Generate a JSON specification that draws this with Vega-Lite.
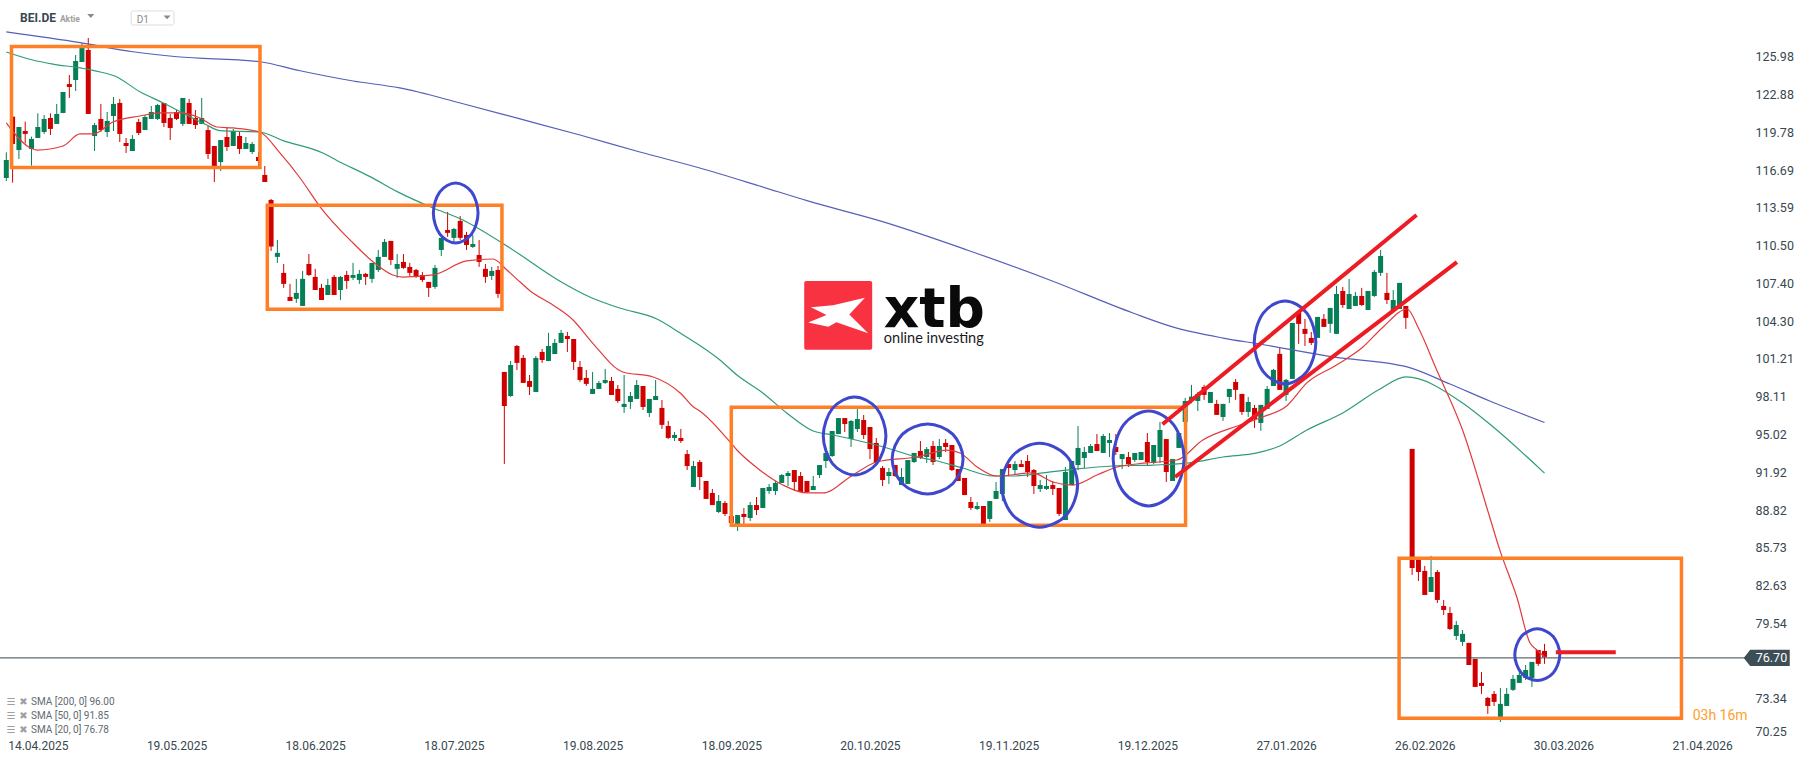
{
"$schema":"https://vega.github.io/schema/vega-lite/v6.json",
"width":1745,"height":740,"padding":{"left":0,"top":0,"right":71,"bottom":21},"autosize":{"type":"none"},"background":"white",
"config":{"view":{"stroke":null},"text":{"font":"Roboto"}},
"datasets":{
"candles":[
{"bar":0,"open":116.04,"high":118.14,"low":115.79,"close":117.52},{"bar":1,"open":121.07,"high":121.07,"low":115.66,"close":118.83},{"bar":2,"open":118.33,"high":120.22,"low":117.6,"close":120.22},{"bar":3,"open":119.89,"high":120.66,"low":118.88,"close":119.65},{"bar":4,"open":118.42,"high":119.43,"low":117.05,"close":119.24},{"bar":5,"open":119.32,"high":121.34,"low":119.32,"close":120.22},{"bar":6,"open":119.81,"high":121.2,"low":119.65,"close":120.88},{"bar":7,"open":120.96,"high":121.34,"low":119.56,"close":120.06},{"bar":8,"open":120.47,"high":122.11,"low":120.47,"close":121.29},{"bar":9,"open":121.37,"high":123.09,"low":121.37,"close":123.09},
{"bar":10,"open":123.74,"high":124.48,"low":122.6,"close":123.5},{"bar":11,"open":124.07,"high":126.12,"low":123.17,"close":125.63},{"bar":12,"open":125.55,"high":127.08,"low":125.55,"close":126.7},{"bar":13,"open":126.53,"high":127.52,"low":121.29,"close":121.29},{"bar":14,"open":119.48,"high":120.55,"low":118.25,"close":120.38},{"bar":15,"open":120.88,"high":122.11,"low":119.81,"close":119.97},{"bar":16,"open":119.81,"high":121.45,"low":119.4,"close":120.71},{"bar":17,"open":121.12,"high":122.68,"low":119.89,"close":122.11},{"bar":18,"open":122.19,"high":122.52,"low":118.99,"close":119.65},{"bar":19,"open":118.91,"high":119.32,"low":118.09,"close":118.66},
{"bar":20,"open":118.25,"high":119.56,"low":118.25,"close":119.24},{"bar":21,"open":120.63,"high":120.88,"low":119.56,"close":119.73},{"bar":22,"open":119.97,"high":121.2,"low":119.97,"close":121.04},{"bar":23,"open":120.88,"high":121.94,"low":120.88,"close":121.45},{"bar":24,"open":120.88,"high":122.11,"low":120.79,"close":122.02},{"bar":25,"open":122.19,"high":122.19,"low":120.22,"close":120.55},{"bar":26,"open":120.96,"high":121.29,"low":119.15,"close":120.14},{"bar":27,"open":121.45,"high":121.61,"low":120.79,"close":120.88},{"bar":28,"open":120.47,"high":122.6,"low":120.3,"close":122.6},{"bar":29,"open":122.19,"high":122.52,"low":120.47,"close":120.47},
{"bar":30,"open":120.96,"high":121.61,"low":120.06,"close":120.38},{"bar":31,"open":120.47,"high":122.6,"low":120.47,"close":120.96},{"bar":32,"open":119.97,"high":120.3,"low":117.6,"close":118.01},{"bar":33,"open":118.66,"high":118.66,"low":115.71,"close":117.02},{"bar":34,"open":117.35,"high":119.15,"low":116.61,"close":119.15},{"bar":35,"open":119.4,"high":120.14,"low":118.25,"close":118.58},{"bar":36,"open":118.66,"high":120.06,"low":118.66,"close":119.89},{"bar":37,"open":119.48,"high":119.81,"low":118.01,"close":118.42},{"bar":38,"open":118.42,"high":119.4,"low":118.42,"close":118.91},{"bar":39,"open":118.17,"high":118.99,"low":118.01,"close":118.83},
{"bar":40,"open":117.76,"high":118.17,"low":117.02,"close":117.43},{"bar":41,"open":116.29,"high":117.02,"low":115.71,"close":115.71},{"bar":42,"open":114.24,"high":114.32,"low":110.06,"close":110.42},{"bar":43,"open":109.57,"high":110.96,"low":109.08,"close":109.9},{"bar":44,"open":108.26,"high":108.99,"low":107.03,"close":107.36},{"bar":45,"open":106.29,"high":107.36,"low":105.96,"close":105.96},{"bar":46,"open":106.13,"high":107.77,"low":105.8,"close":106.62},{"bar":47,"open":105.55,"high":108.42,"low":105.55,"close":107.77},{"bar":48,"open":108.99,"high":109.81,"low":108.01,"close":108.09},{"bar":49,"open":107.93,"high":108.59,"low":106.86,"close":106.86},
{"bar":50,"open":107.03,"high":107.36,"low":106.04,"close":106.04},{"bar":51,"open":106.45,"high":107.77,"low":106.45,"close":107.27},{"bar":52,"open":107.93,"high":108.09,"low":106.45,"close":106.45},{"bar":53,"open":106.86,"high":108.01,"low":106.04,"close":107.93},{"bar":54,"open":108.09,"high":108.42,"low":106.95,"close":107.6},{"bar":55,"open":107.85,"high":109.08,"low":107.68,"close":108.09},{"bar":56,"open":107.68,"high":108.5,"low":107.36,"close":108.18},{"bar":57,"open":108.18,"high":108.26,"low":107.27,"close":107.93},{"bar":58,"open":107.77,"high":109.08,"low":107.44,"close":109.08},{"bar":59,"open":108.5,"high":110.14,"low":108.34,"close":109.57},
{"bar":60,"open":109.57,"high":111.04,"low":109.57,"close":110.8},{"bar":61,"open":110.88,"high":110.88,"low":108.91,"close":109.32},{"bar":62,"open":108.59,"high":109.81,"low":107.85,"close":108.99},{"bar":63,"open":109.16,"high":109.81,"low":108.59,"close":108.67},{"bar":64,"open":108.75,"high":109.08,"low":108.01,"close":108.26},{"bar":65,"open":108.5,"high":108.59,"low":107.85,"close":107.93},{"bar":66,"open":108.09,"high":108.34,"low":107.52,"close":107.68},{"bar":67,"open":107.52,"high":107.52,"low":106.29,"close":107.03},{"bar":68,"open":107.11,"high":108.91,"low":106.95,"close":108.67},{"bar":69,"open":110.14,"high":111.13,"low":109.65,"close":111.13},
{"bar":70,"open":111.78,"high":113.26,"low":111.21,"close":111.54},{"bar":71,"open":111.13,"high":111.95,"low":110.8,"close":111.86},{"bar":72,"open":112.52,"high":112.93,"low":110.96,"close":111.13},{"bar":73,"open":111.37,"high":111.62,"low":110.14,"close":110.55},{"bar":74,"open":110.39,"high":111.37,"low":110.31,"close":110.63},{"bar":75,"open":109.73,"high":110.96,"low":108.75,"close":109.16},{"bar":76,"open":108.59,"high":108.99,"low":107.44,"close":107.93},{"bar":77,"open":108.01,"high":108.75,"low":107.68,"close":108.42},{"bar":78,"open":108.5,"high":108.83,"low":106.21,"close":106.54},{"bar":79,"open":100.14,"high":100.14,"low":92.6,"close":97.35},
{"bar":80,"open":98.17,"high":101.04,"low":98.09,"close":100.71},{"bar":81,"open":102.27,"high":102.35,"low":100.3,"close":100.88},{"bar":82,"open":101.29,"high":101.53,"low":99.24,"close":99.24},{"bar":83,"open":99.4,"high":99.89,"low":98.25,"close":98.91},{"bar":84,"open":98.5,"high":101.45,"low":98.5,"close":101.29},{"bar":85,"open":101.78,"high":102.02,"low":100.88,"close":101.12},{"bar":86,"open":101.04,"high":103.34,"low":101.04,"close":102.27},{"bar":87,"open":101.61,"high":102.84,"low":101.61,"close":102.52},{"bar":88,"open":102.52,"high":103.58,"low":102.52,"close":103.34},{"bar":89,"open":103.09,"high":103.42,"low":101.78,"close":102.84},
{"bar":90,"open":102.84,"high":102.84,"low":100.3,"close":100.96},{"bar":91,"open":100.55,"high":101.04,"low":99.32,"close":99.48},{"bar":92,"open":99.65,"high":100.3,"low":98.99,"close":99.16},{"bar":93,"open":98.34,"high":100.14,"low":98.34,"close":98.75},{"bar":94,"open":98.75,"high":99.4,"low":98.75,"close":99.24},{"bar":95,"open":99.24,"high":100.39,"low":99.16,"close":99.48},{"bar":96,"open":99.4,"high":99.73,"low":98.25,"close":98.25},{"bar":97,"open":98.75,"high":99.07,"low":97.6,"close":97.76},{"bar":98,"open":97.27,"high":99.89,"low":96.78,"close":97.52},{"bar":99,"open":97.68,"high":98.5,"low":97.11,"close":98.17},
{"bar":100,"open":97.93,"high":99.48,"low":97.93,"close":99.07},{"bar":101,"open":98.99,"high":98.99,"low":97.02,"close":97.27},{"bar":102,"open":96.78,"high":97.93,"low":96.45,"close":97.93},{"bar":103,"open":97.84,"high":99.48,"low":97.84,"close":98.17},{"bar":104,"open":97.19,"high":97.84,"low":95.47,"close":95.8},{"bar":105,"open":95.71,"high":96.12,"low":94.65,"close":94.73},{"bar":106,"open":94.73,"high":95.22,"low":94.48,"close":94.98},{"bar":107,"open":94.73,"high":95.47,"low":94.32,"close":94.48},{"bar":108,"open":93.41,"high":93.74,"low":92.1,"close":92.43},{"bar":109,"open":90.71,"high":92.84,"low":90.71,"close":92.43},
{"bar":110,"open":92.76,"high":92.92,"low":90.46,"close":91.53},{"bar":111,"open":91.2,"high":91.2,"low":89.73,"close":89.73},{"bar":112,"open":90.22,"high":90.55,"low":89.23,"close":89.23},{"bar":113,"open":88.66,"high":90.05,"low":88.58,"close":89.56},{"bar":114,"open":89.4,"high":89.56,"low":88.33,"close":88.5},{"bar":115,"open":88.33,"high":88.33,"low":87.68,"close":87.76},{"bar":116,"open":87.51,"high":88.41,"low":87.1,"close":88.41},{"bar":117,"open":88.5,"high":88.99,"low":87.68,"close":88.25},{"bar":118,"open":88.17,"high":89.48,"low":87.92,"close":89.23},{"bar":119,"open":89.23,"high":89.89,"low":88.41,"close":88.82},
{"bar":120,"open":88.99,"high":90.63,"low":88.99,"close":90.63},{"bar":121,"open":90.38,"high":90.96,"low":90.14,"close":90.71},{"bar":122,"open":90.38,"high":91.2,"low":90.05,"close":91.04},{"bar":123,"open":91.04,"high":91.77,"low":91.04,"close":91.69},{"bar":124,"open":91.61,"high":92.02,"low":90.79,"close":91.86},{"bar":125,"open":92.1,"high":92.1,"low":90.38,"close":91.12},{"bar":126,"open":91.61,"high":91.94,"low":90.3,"close":90.3},{"bar":127,"open":91.2,"high":91.2,"low":90.22,"close":90.3},{"bar":128,"open":90.46,"high":91.61,"low":90.46,"close":90.79},{"bar":129,"open":91.69,"high":92.51,"low":91.45,"close":92.51},
{"bar":130,"open":92.84,"high":93.5,"low":92.27,"close":93.5},{"bar":131,"open":93.25,"high":95.3,"low":93.17,"close":95.3},{"bar":132,"open":95.05,"high":96.36,"low":95.05,"close":96.36},{"bar":133,"open":96.36,"high":96.36,"low":95.22,"close":95.87},{"bar":134,"open":94.64,"high":96.2,"low":93.99,"close":96.12},{"bar":135,"open":95.46,"high":97.1,"low":95.22,"close":96.28},{"bar":136,"open":96.2,"high":96.61,"low":94.64,"close":94.97},{"bar":137,"open":95.63,"high":95.63,"low":93,"close":93.82},{"bar":138,"open":94.32,"high":94.73,"low":92.68,"close":92.68},{"bar":139,"open":92.27,"high":92.43,"low":90.79,"close":91.28},
{"bar":140,"open":91.61,"high":92.27,"low":90.96,"close":91.94},{"bar":141,"open":92.51,"high":92.51,"low":91.53,"close":91.61},{"bar":142,"open":90.87,"high":92.27,"low":90.87,"close":91.53},{"bar":143,"open":90.96,"high":92.92,"low":90.96,"close":92.92},{"bar":144,"open":92.76,"high":93.5,"low":92.68,"close":93.5},{"bar":145,"open":93.66,"high":94.48,"low":93,"close":93.09},{"bar":146,"open":93.17,"high":93.99,"low":92.68,"close":93.82},{"bar":147,"open":94.07,"high":94.48,"low":92.51,"close":92.76},{"bar":148,"open":93.17,"high":94.64,"low":93,"close":94.07},{"bar":149,"open":94.32,"high":94.64,"low":93.58,"close":93.99},
{"bar":150,"open":94.15,"high":94.15,"low":92.02,"close":92.1},{"bar":151,"open":92.18,"high":92.18,"low":91.2,"close":91.2},{"bar":152,"open":91.45,"high":91.45,"low":90.05,"close":90.05},{"bar":153,"open":89.48,"high":89.89,"low":88.82,"close":88.99},{"bar":154,"open":88.91,"high":89.48,"low":88.82,"close":89.15},{"bar":155,"open":89.15,"high":89.15,"low":87.51,"close":87.59},{"bar":156,"open":88.09,"high":89.56,"low":87.84,"close":89.56},{"bar":157,"open":89.73,"high":91.12,"low":89.73,"close":90.38},{"bar":158,"open":90.14,"high":92.18,"low":89.56,"close":92.18},{"bar":159,"open":92.59,"high":92.59,"low":91.61,"close":92.27},
{"bar":160,"open":92.1,"high":92.84,"low":91.77,"close":92.59},{"bar":161,"open":92.59,"high":92.92,"low":92.35,"close":92.35},{"bar":162,"open":92.84,"high":93.33,"low":91.53,"close":91.94},{"bar":163,"open":92.1,"high":92.18,"low":90.14,"close":90.79},{"bar":164,"open":90.55,"high":91.28,"low":90.3,"close":90.87},{"bar":165,"open":90.55,"high":91.69,"low":90.46,"close":90.79},{"bar":166,"open":90.87,"high":91.2,"low":90.05,"close":90.55},{"bar":167,"open":90.63,"high":90.63,"low":88.33,"close":88.5},{"bar":168,"open":88,"high":92.35,"low":88,"close":91.94},{"bar":169,"open":90.87,"high":92.84,"low":90.87,"close":92.84},
{"bar":170,"open":92.51,"high":95.71,"low":92.1,"close":93.91},{"bar":171,"open":93.09,"high":93.99,"low":92.27,"close":93.58},{"bar":172,"open":93.5,"high":94.23,"low":93.5,"close":94.07},{"bar":173,"open":94.23,"high":95.05,"low":93.66,"close":93.66},{"bar":174,"open":93.5,"high":95.05,"low":93.5,"close":94.89},{"bar":175,"open":94.32,"high":95.13,"low":93.17,"close":94.56},{"bar":176,"open":93.99,"high":95.05,"low":93.33,"close":93.58},{"bar":177,"open":93,"high":93.41,"low":92.18,"close":93.41},{"bar":178,"open":93.17,"high":93.58,"low":92.35,"close":92.59},{"bar":179,"open":92.92,"high":93.5,"low":92.76,"close":93.5},
{"bar":180,"open":92.92,"high":93.58,"low":92.92,"close":93.58},{"bar":181,"open":94.4,"high":95.13,"low":92.43,"close":92.76},{"bar":182,"open":92.68,"high":94.15,"low":92.59,"close":94.15},{"bar":183,"open":93.17,"high":96.04,"low":92.68,"close":95.38},{"bar":184,"open":94.64,"high":94.64,"low":91.12,"close":91.94},{"bar":185,"open":91.2,"high":93,"low":91.2,"close":93},{"bar":186,"open":93.91,"high":95.13,"low":93.91,"close":95.13},{"bar":187,"open":96.04,"high":98.01,"low":96.04,"close":97.76},{"bar":188,"open":97.76,"high":99.08,"low":97.57,"close":98.12},{"bar":189,"open":97.76,"high":98.5,"low":96.94,"close":98.34},
{"bar":190,"open":98.91,"high":99.08,"low":97.85,"close":98.26},{"bar":191,"open":97.6,"high":98.5,"low":97.6,"close":98.5},{"bar":192,"open":97.52,"high":97.85,"low":96.62,"close":96.62},{"bar":193,"open":96.45,"high":97.52,"low":96.13,"close":97.52},{"bar":194,"open":98.09,"high":98.75,"low":97.6,"close":98.75},{"bar":195,"open":99.32,"high":99.57,"low":97.85,"close":98.67},{"bar":196,"open":98.34,"high":98.34,"low":96.62,"close":96.86},{"bar":197,"open":96.86,"high":98.09,"low":96.45,"close":97.68},{"bar":198,"open":97.19,"high":97.44,"low":95.55,"close":96.29},{"bar":199,"open":95.96,"high":97.44,"low":95.31,"close":97.44},
{"bar":200,"open":97.11,"high":98.99,"low":97.11,"close":98.75},{"bar":201,"open":98.99,"high":100.39,"low":98.99,"close":100.31},{"bar":202,"open":101.62,"high":102.11,"low":98.67,"close":98.67},{"bar":203,"open":98.26,"high":99.57,"low":97.76,"close":99.49},{"bar":204,"open":99.57,"high":104.16,"low":99.57,"close":104.16},{"bar":205,"open":104.98,"high":104.98,"low":102.44,"close":104.08},{"bar":206,"open":103.67,"high":104.49,"low":102.27,"close":103.26},{"bar":207,"open":102.93,"high":103.42,"low":102.35,"close":102.52},{"bar":208,"open":102.93,"high":104.65,"low":102.93,"close":104.65},{"bar":209,"open":104.49,"high":104.89,"low":103.83,"close":103.83},
{"bar":210,"open":104.08,"high":105.39,"low":103.34,"close":105.39},{"bar":211,"open":103.26,"high":107.19,"low":103.26,"close":106.53},{"bar":212,"open":106.78,"high":107.11,"low":105.39,"close":105.63},{"bar":213,"open":105.3,"high":107.76,"low":105.3,"close":106.53},{"bar":214,"open":105.55,"high":106.7,"low":105.55,"close":106.37},{"bar":215,"open":106.37,"high":107.03,"low":105.55,"close":105.63},{"bar":216,"open":105.22,"high":106.78,"low":105.22,"close":106.78},{"bar":217,"open":106.37,"high":108.5,"low":106.29,"close":108.34},{"bar":218,"open":108.26,"high":110.14,"low":108.01,"close":109.65},{"bar":219,"open":106.62,"high":108.26,"low":105.71,"close":106.04},
{"bar":220,"open":105.22,"high":106.86,"low":105.22,"close":106.04},{"bar":221,"open":105.3,"high":107.44,"low":105.3,"close":107.44},{"bar":222,"open":105.55,"high":105.55,"low":103.67,"close":104.57},{"bar":223,"open":93.83,"high":93.83,"low":83.5,"close":84.07},{"bar":224,"open":84.73,"high":84.73,"low":83.01,"close":83.74},{"bar":225,"open":83.83,"high":84.24,"low":81.86,"close":81.86},{"bar":226,"open":82.1,"high":85.06,"low":82.1,"close":83.33},{"bar":227,"open":83.74,"high":83.91,"low":81.2,"close":81.45},{"bar":228,"open":80.96,"high":81.45,"low":80.22,"close":80.63},{"bar":229,"open":80.38,"high":80.88,"low":78.99,"close":79.07},
{"bar":230,"open":78.5,"high":79.73,"low":78.17,"close":79.4},{"bar":231,"open":78.01,"high":78.99,"low":77.68,"close":78.67},{"bar":232,"open":77.93,"high":77.93,"low":76.12,"close":76.12},{"bar":233,"open":76.62,"high":76.62,"low":74.32,"close":74.32},{"bar":234,"open":74.65,"high":75.55,"low":73.75,"close":74.4},{"bar":235,"open":73.42,"high":73.5,"low":72.11,"close":72.76},{"bar":236,"open":73.75,"high":73.99,"low":72.76,"close":73.09},{"bar":237,"open":71.86,"high":74.24,"low":71.45,"close":72.93},{"bar":238,"open":72.76,"high":74.24,"low":72.76,"close":73.75},{"bar":239,"open":74.08,"high":75.3,"low":73.99,"close":74.98},
{"bar":240,"open":74.65,"high":75.71,"low":74.65,"close":75.3},{"bar":241,"open":75.06,"high":76.12,"low":74.89,"close":75.71},{"bar":242,"open":75.06,"high":76.37,"low":74.32,"close":76.37},{"bar":243,"open":77.35,"high":77.35,"low":76.04,"close":76.21},{"bar":244,"open":77.27,"high":77.85,"low":76.21,"close":76.78}
],
"sma":[
{"name":"SMA200","bar":0,"price":128.01},{"name":"SMA200","bar":11.7,"price":127.13},{"name":"SMA200","bar":20.1,"price":126.39},{"name":"SMA200","bar":27.1,"price":125.98},{"name":"SMA200","bar":40.2,"price":125.57},{"name":"SMA200","bar":46.6,"price":124.83},{"name":"SMA200","bar":55,"price":123.99},{"name":"SMA200","bar":62.4,"price":123.42},{"name":"SMA200","bar":72,"price":122.19},{"name":"SMA200","bar":81.5,"price":120.88},{"name":"SMA200","bar":91,"price":119.56},{"name":"SMA200","bar":100.5,"price":118.17},{"name":"SMA200","bar":110,"price":116.86},{"name":"SMA200","bar":119.5,"price":115.38},{"name":"SMA200","bar":127,"price":114.18},{"name":"SMA200","bar":139,"price":112.46},{"name":"SMA200","bar":152.4,"price":110.14},{"name":"SMA200","bar":165.5,"price":107.68},{"name":"SMA200","bar":178.7,"price":104.97},{"name":"SMA200","bar":185,"price":103.83},{"name":"SMA200","bar":193,"price":102.92},{"name":"SMA200","bar":198.8,"price":102.43},{"name":"SMA200","bar":210.4,"price":101.37},{"name":"SMA200","bar":222.2,"price":100.55},{"name":"SMA200","bar":229,"price":99.15},{"name":"SMA200","bar":235.3,"price":97.76},{"name":"SMA200","bar":244,"price":96},
{"name":"SMA50","bar":0,"price":126.37},{"name":"SMA50","bar":4.2,"price":125.71},{"name":"SMA50","bar":7.4,"price":125.38},{"name":"SMA50","bar":11.7,"price":125.06},{"name":"SMA50","bar":14.9,"price":124.73},{"name":"SMA50","bar":17.2,"price":124.4},{"name":"SMA50","bar":21.2,"price":123.11},{"name":"SMA50","bar":24.9,"price":122.19},{"name":"SMA50","bar":28,"price":121.37},{"name":"SMA50","bar":31.8,"price":120.38},{"name":"SMA50","bar":33.9,"price":119.92},{"name":"SMA50","bar":40.2,"price":119.81},{"name":"SMA50","bar":43.9,"price":119.1},{"name":"SMA50","bar":50.2,"price":118.09},{"name":"SMA50","bar":52.5,"price":117.46},{"name":"SMA50","bar":57.7,"price":116.15},{"name":"SMA50","bar":62,"price":114.92},{"name":"SMA50","bar":67.7,"price":113.58},{"name":"SMA50","bar":72,"price":112.7},{"name":"SMA50","bar":79.9,"price":110.3},{"name":"SMA50","bar":87.5,"price":107.68},{"name":"SMA50","bar":92.9,"price":106.2},{"name":"SMA50","bar":97.3,"price":105.38},{"name":"SMA50","bar":103.2,"price":104.48},{"name":"SMA50","bar":106.9,"price":103.33},{"name":"SMA50","bar":113.2,"price":101.12},{"name":"SMA50","bar":115.9,"price":99.89},{"name":"SMA50","bar":120,"price":98.42},{"name":"SMA50","bar":123.8,"price":96.78},{"name":"SMA50","bar":128,"price":95.3},{"name":"SMA50","bar":131.1,"price":94.97},{"name":"SMA50","bar":139.7,"price":93.91},{"name":"SMA50","bar":144.4,"price":93.17},{"name":"SMA50","bar":147,"price":92.92},{"name":"SMA50","bar":151.7,"price":92.27},{"name":"SMA50","bar":156.5,"price":91.61},{"name":"SMA50","bar":159.7,"price":91.61},{"name":"SMA50","bar":164.4,"price":91.86},{"name":"SMA50","bar":169.8,"price":92.19},{"name":"SMA50","bar":175.5,"price":92.43},{"name":"SMA50","bar":181.9,"price":92.51},{"name":"SMA50","bar":187.7,"price":92.68},{"name":"SMA50","bar":193,"price":93.17},{"name":"SMA50","bar":198.4,"price":93.5},{"name":"SMA50","bar":202,"price":94.07},{"name":"SMA50","bar":206.3,"price":95.38},{"name":"SMA50","bar":212,"price":96.78},{"name":"SMA50","bar":217.9,"price":98.74},{"name":"SMA50","bar":222,"price":99.73},{"name":"SMA50","bar":231,"price":97.6},{"name":"SMA50","bar":235.3,"price":95.87},{"name":"SMA50","bar":244,"price":91.85},
{"name":"SMA20","bar":0,"price":120.55},{"name":"SMA20","bar":1.1,"price":119.81},{"name":"SMA20","bar":3.8,"price":118.5},{"name":"SMA20","bar":4.9,"price":118.33},{"name":"SMA20","bar":9,"price":118.66},{"name":"SMA20","bar":11.7,"price":119.65},{"name":"SMA20","bar":13.8,"price":119.65},{"name":"SMA20","bar":16.9,"price":120.63},{"name":"SMA20","bar":21.2,"price":121.12},{"name":"SMA20","bar":24.4,"price":121.37},{"name":"SMA20","bar":27.6,"price":121.37},{"name":"SMA20","bar":30.7,"price":120.96},{"name":"SMA20","bar":33.4,"price":120.22},{"name":"SMA20","bar":36,"price":120.14},{"name":"SMA20","bar":40.2,"price":119.81},{"name":"SMA20","bar":43.4,"price":118.09},{"name":"SMA20","bar":46.6,"price":116.04},{"name":"SMA20","bar":49.8,"price":113.66},{"name":"SMA20","bar":55,"price":110.71},{"name":"SMA20","bar":58.2,"price":109.15},{"name":"SMA20","bar":61.3,"price":108.09},{"name":"SMA20","bar":62.9,"price":107.92},{"name":"SMA20","bar":67.7,"price":108.09},{"name":"SMA20","bar":73,"price":109.24},{"name":"SMA20","bar":77.2,"price":109.4},{"name":"SMA20","bar":79.4,"price":108.5},{"name":"SMA20","bar":81.5,"price":107.51},{"name":"SMA20","bar":83.1,"price":106.78},{"name":"SMA20","bar":86.7,"price":105.63},{"name":"SMA20","bar":89.9,"price":104.4},{"name":"SMA20","bar":93,"price":102.51},{"name":"SMA20","bar":97.8,"price":100.14},{"name":"SMA20","bar":102.6,"price":99.73},{"name":"SMA20","bar":106.9,"price":98.42},{"name":"SMA20","bar":109,"price":97.27},{"name":"SMA20","bar":110,"price":96.94},{"name":"SMA20","bar":114.8,"price":94.4},{"name":"SMA20","bar":115.9,"price":93.74},{"name":"SMA20","bar":119.1,"price":92.27},{"name":"SMA20","bar":123.2,"price":90.87},{"name":"SMA20","bar":127,"price":90.22},{"name":"SMA20","bar":129.5,"price":90.22},{"name":"SMA20","bar":134.3,"price":91.7},{"name":"SMA20","bar":138.1,"price":92.76},{"name":"SMA20","bar":144.4,"price":93.17},{"name":"SMA20","bar":149.2,"price":93.74},{"name":"SMA20","bar":151.3,"price":93.5},{"name":"SMA20","bar":154,"price":92.35},{"name":"SMA20","bar":157.1,"price":91.61},{"name":"SMA20","bar":162.8,"price":91.86},{"name":"SMA20","bar":166,"price":91.12},{"name":"SMA20","bar":169.2,"price":90.87},{"name":"SMA20","bar":173,"price":91.69},{"name":"SMA20","bar":176.2,"price":92.35},{"name":"SMA20","bar":180.9,"price":92.68},{"name":"SMA20","bar":185.7,"price":92.92},{"name":"SMA20","bar":189.8,"price":94.56},{"name":"SMA20","bar":195.7,"price":95.79},{"name":"SMA20","bar":199.3,"price":96.45},{"name":"SMA20","bar":203.1,"price":97.35},{"name":"SMA20","bar":206.3,"price":99.24},{"name":"SMA20","bar":211,"price":100.71},{"name":"SMA20","bar":215.2,"price":102.19},{"name":"SMA20","bar":218.4,"price":103.83},{"name":"SMA20","bar":222.2,"price":105.3},{"name":"SMA20","bar":224,"price":103.74},{"name":"SMA20","bar":226.9,"price":100.3},{"name":"SMA20","bar":231,"price":95.38},{"name":"SMA20","bar":235.3,"price":88.25},{"name":"SMA20","bar":236.9,"price":85.55},{"name":"SMA20","bar":239.6,"price":81.69},{"name":"SMA20","bar":241.7,"price":77.92},{"name":"SMA20","bar":242.8,"price":77.35},{"name":"SMA20","bar":244,"price":76.78}
],
"boxes":[
{"bar":0.82,"bar2":40.24,"price":126.82,"price2":116.9},
{"bar":41.4,"bar2":78.62,"price":113.8,"price2":105.28},
{"bar":115,"bar2":187.06,"price":97.24,"price2":87.57},
{"bar":220.93,"bar2":265.72,"price":84.87,"price2":71.75}
],
"circles":[
{"id":"E1","k":0,"bar":74.83,"price":113.17},{"id":"E1","k":1,"bar":73.79,"price":114.91},{"id":"E1","k":2,"bar":71.28,"price":115.63},{"id":"E1","k":3,"bar":68.77,"price":114.91},{"id":"E1","k":4,"bar":67.74,"price":113.17},{"id":"E1","k":5,"bar":68.77,"price":111.43},{"id":"E1","k":6,"bar":71.28,"price":110.71},{"id":"E1","k":7,"bar":73.79,"price":111.43},
{"id":"E2","k":0,"bar":139.53,"price":94.89},{"id":"E2","k":1,"bar":138.07,"price":97.15},{"id":"E2","k":2,"bar":134.56,"price":98.09},{"id":"E2","k":3,"bar":131.05,"price":97.15},{"id":"E2","k":4,"bar":129.59,"price":94.89},{"id":"E2","k":5,"bar":131.05,"price":92.63},{"id":"E2","k":6,"bar":134.56,"price":91.69},{"id":"E2","k":7,"bar":138.07,"price":92.63},
{"id":"E3","k":0,"bar":151.77,"price":93.01},{"id":"E3","k":1,"bar":150.12,"price":95.04},{"id":"E3","k":2,"bar":146.14,"price":95.88},{"id":"E3","k":3,"bar":142.16,"price":95.04},{"id":"E3","k":4,"bar":140.51,"price":93.01},{"id":"E3","k":5,"bar":142.16,"price":90.98},{"id":"E3","k":6,"bar":146.14,"price":90.14},{"id":"E3","k":7,"bar":150.12,"price":90.98},
{"id":"E4","k":0,"bar":169.93,"price":90.85},{"id":"E4","k":1,"bar":168.16,"price":93.28},{"id":"E4","k":2,"bar":163.9,"price":94.29},{"id":"E4","k":3,"bar":159.64,"price":93.28},{"id":"E4","k":4,"bar":157.87,"price":90.85},{"id":"E4","k":5,"bar":159.64,"price":88.42},{"id":"E4","k":6,"bar":163.9,"price":87.41},{"id":"E4","k":7,"bar":168.16,"price":88.42},
{"id":"E5","k":0,"bar":186.83,"price":93.05},{"id":"E5","k":1,"bar":185.18,"price":95.8},{"id":"E5","k":2,"bar":181.2,"price":96.94},{"id":"E5","k":3,"bar":177.22,"price":95.8},{"id":"E5","k":4,"bar":175.57,"price":93.05},{"id":"E5","k":5,"bar":177.22,"price":90.3},{"id":"E5","k":6,"bar":181.2,"price":89.16},{"id":"E5","k":7,"bar":185.18,"price":90.3},
{"id":"E6","k":0,"bar":207.73,"price":102.56},{"id":"E6","k":1,"bar":206.3,"price":104.97},{"id":"E6","k":2,"bar":202.84,"price":105.96},{"id":"E6","k":3,"bar":199.38,"price":104.97},{"id":"E6","k":4,"bar":197.95,"price":102.56},{"id":"E6","k":5,"bar":199.38,"price":100.16},{"id":"E6","k":6,"bar":202.84,"price":99.16},{"id":"E6","k":7,"bar":206.3,"price":100.16},
{"id":"E7","k":0,"bar":246.42,"price":76.96},{"id":"E7","k":1,"bar":245.37,"price":78.46},{"id":"E7","k":2,"bar":242.85,"price":79.08},{"id":"E7","k":3,"bar":240.33,"price":78.46},{"id":"E7","k":4,"bar":239.28,"price":76.96},{"id":"E7","k":5,"bar":240.33,"price":75.46},{"id":"E7","k":6,"bar":242.85,"price":74.84},{"id":"E7","k":7,"bar":245.37,"price":75.46}
],
"trend":[
{"id":"up","bar":183.4,"price":95.85},{"id":"up","bar":223.7,"price":113.01},
{"id":"low","bar":185.4,"price":91.53},{"id":"low","bar":230.1,"price":109.15},
{"id":"flat","bar":245.8,"price":77.16},{"id":"flat","bar":255.3,"price":77.16}
]
},
"encoding":{
"x":{"field":"bar","type":"quantitative","title":null,"scale":{"domain":[-1,275.8],"nice":false,"zero":false,"padding":0},
"axis":{"grid":false,"domain":false,"ticks":false,"labelFont":"Roboto","labelFontSize":12,"labelColor":"#37474f","labelPadding":0,"labelFlush":false,"labelOverlap":false,"labelBound":false,
"values":[5,27,49,71,93,115,137,159,181,203,225,247,269],
"labelExpr":"['14.04.2025','19.05.2025','18.06.2025','18.07.2025','19.08.2025','18.09.2025','20.10.2025','19.11.2025','19.12.2025','27.01.2026','26.02.2026','30.03.2026','21.04.2026'][(datum.value-5)/22]"}},
"y":{"field":"price","type":"quantitative","title":null,"scale":{"domain":[69.97,130.63],"nice":false,"zero":false},
"axis":{"orient":"right","grid":false,"domain":false,"ticks":false,"labelFont":"Roboto","labelFontSize":12.5,"labelColor":"#37474f","labelPadding":10,"labelFlush":false,"labelOverlap":false,"labelBound":false,"format":".2f",
"labelOffset":{"condition":{"test":"datum.value<71","value":-5},"value":0},
"values":[125.98,122.88,119.78,116.69,113.59,110.5,107.4,104.3,101.21,98.11,95.02,91.92,88.82,85.73,82.63,79.54,73.34,70.25]}}
},
"layer":[
{"data":{"name":"candles"},"mark":{"type":"rule","strokeWidth":1},
"encoding":{"y":{"field":"low","type":"quantitative","title":null,"scale":{"domain":[69.97,130.63],"nice":false,"zero":false}},"y2":{"field":"high"},
"color":{"condition":{"test":"datum.close>datum.open","value":"#067f57"},"value":"#d10000"}}},
{"data":{"name":"candles"},"mark":{"type":"bar","size":5,"orient":"vertical"},
"encoding":{"y":{"field":"open","type":"quantitative","title":null,"scale":{"domain":[69.97,130.63],"nice":false,"zero":false}},"y2":{"field":"close"},
"color":{"condition":{"test":"datum.close>datum.open","value":"#067f57"},"value":"#d10000"}}},
{"data":{"name":"sma"},"mark":{"type":"line","strokeWidth":1.2,"interpolate":"monotone"},
"encoding":{"color":{"field":"name","type":"nominal","legend":null,"scale":{"domain":["SMA200","SMA50","SMA20"],"range":["#5560b8","#2f9c78","#e23b3b"]}}}},
{"data":{"values":[{"bar":-1,"bar2":275.8,"price":76.7}]},"mark":{"type":"rule","color":"#37474f","strokeWidth":1},
"encoding":{"x2":{"field":"bar2"}}},
{"data":{"name":"boxes"},"mark":{"type":"rect","filled":false,"stroke":"#ff7f27","strokeWidth":3.5},
"encoding":{"x2":{"field":"bar2"},"y2":{"field":"price2"}}},
{"data":{"name":"circles"},"mark":{"type":"line","interpolate":"cardinal-closed","stroke":"#3f48cc","strokeWidth":3},
"encoding":{"detail":{"field":"id"},"order":{"field":"k","type":"quantitative"}}},
{"data":{"name":"trend"},"mark":{"type":"line","stroke":"#ed1c24","strokeWidth":4},
"encoding":{"detail":{"field":"id"}}},
{"data":{"values":[{"bar":126.57,"bar2":137.35,"price":107.6,"price2":101.96}]},"mark":{"type":"rect","fill":"#f93241","cornerRadius":2},
"encoding":{"x2":{"field":"bar2"},"y2":{"field":"price2"}}},
{"data":{"values":[{"bar":131.96,"price":104.78}]},"mark":{"type":"point","filled":true,"fill":"white","opacity":1,"strokeWidth":0,"size":3600,"shape":"M-0.91,-0.27L-0.17,-0.34L0.89,-0.59L0.37,-0.03L1,0.6L-0.06,0.23L-0.33,0.38L-1,0.24L-0.39,-0.01Z"}},
{"data":{"values":[{"bar":139.2,"price":103.85,"label":"xtb"}]},"mark":{"type":"text","font":"DejaVu Sans","fontWeight":"bold","fontSize":55,"align":"left","baseline":"alphabetic","color":"#0a0a0a"},"encoding":{"text":{"field":"label"}}},
{"data":{"values":[{"bar":139.2,"price":102.85,"label":"online investing"}]},"mark":{"type":"text","font":"Lato","fontSize":14.5,"align":"left","baseline":"middle","color":"#1a1a1a"},"encoding":{"text":{"field":"label"}}},
{"data":{"values":[{"bar":19.8,"bar2":26.6,"price":129.73,"price2":128.58}]},"mark":{"type":"rect","filled":false,"stroke":"#dddddd","strokeWidth":1,"cornerRadius":2},
"encoding":{"x2":{"field":"bar2"},"y2":{"field":"price2"}}},
{"data":{"values":[{"bar":2.17,"price":129.15,"label":"BEI.DE"}]},"mark":{"type":"text","font":"Roboto","fontWeight":"bold","fontSize":12,"align":"left","baseline":"middle","color":"#37474f"},"encoding":{"text":{"field":"label"}}},
{"data":{"values":[{"bar":8.5,"price":129.1,"label":"Aktie"}]},"mark":{"type":"text","font":"Roboto","fontWeight":"bold","fontSize":8.5,"align":"left","baseline":"middle","color":"#a0a0a0"},"encoding":{"text":{"field":"label"}}},
{"data":{"values":[{"bar":20.7,"price":129.03,"label":"D1"}]},"mark":{"type":"text","font":"Roboto","fontSize":10,"align":"left","baseline":"middle","color":"#8a8a8a"},"encoding":{"text":{"field":"label"}}},
{"data":{"values":[{"bar":13.4,"price":129.32},{"bar":25.5,"price":129.2}]},"mark":{"type":"point","shape":"M-1,-0.55L1,-0.55L0,0.55Z","filled":true,"fill":"#8a8a8a","opacity":1,"strokeWidth":0,"size":49}},
{"data":{"values":[{"bar":3.92,"price":73.11,"label":"SMA [200, 0] 96.00"},{"bar":3.92,"price":71.96,"label":"SMA [50, 0] 91.85"},{"bar":3.92,"price":70.81,"label":"SMA [20, 0] 76.78"}]},"mark":{"type":"text","font":"Roboto","fontSize":10,"align":"left","baseline":"middle","color":"#5f6b70"},"encoding":{"text":{"field":"label"}}},
{"data":{"values":[{"bar":0.75,"price":73.11,"label":"☰"},{"bar":0.75,"price":71.96,"label":"☰"},{"bar":0.75,"price":70.81,"label":"☰"},{"bar":2.73,"price":73.11,"label":"✖"},{"bar":2.73,"price":71.96,"label":"✖"},{"bar":2.73,"price":70.81,"label":"✖"}]},"mark":{"type":"text","font":"DejaVu Sans","fontSize":10,"align":"center","baseline":"middle","color":"#a0a0a0"},"encoding":{"text":{"field":"label"}}},
{"data":{"values":[{"bar":267.5,"price":71.94,"label":"03h 16m"}]},"mark":{"type":"text","font":"Roboto","fontSize":14,"align":"left","baseline":"middle","color":"#ff9f2e"},"encoding":{"text":{"field":"label"}}},
{"data":{"values":[{"bar":279.25,"price":76.7}]},"mark":{"type":"point","filled":true,"fill":"#3e4e57","opacity":1,"strokeWidth":0,"size":2116,"shape":"M-1,0L-0.72,-0.35L1,-0.35L1,0.35L-0.72,0.35Z"}},
{"data":{"values":[{"bar":280,"price":76.7,"label":"76.70"}]},"mark":{"type":"text","font":"Roboto","fontSize":12.5,"align":"center","baseline":"middle","color":"white"},"encoding":{"text":{"field":"label"}}}
]
}
